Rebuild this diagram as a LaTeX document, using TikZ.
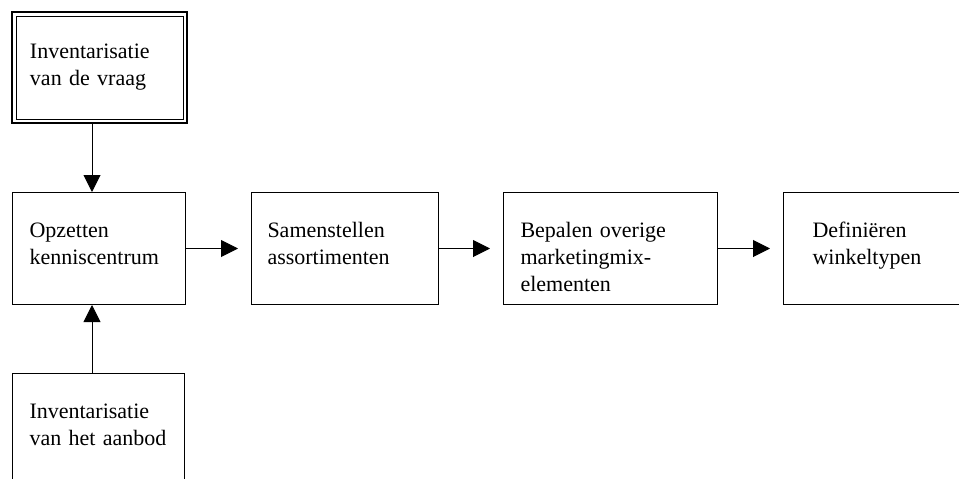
\documentclass[tikz,border=0pt]{standalone}
\usepackage{fontspec}
\setmainfont{Liberation Serif}
\usetikzlibrary{arrows.meta}

\begin{document}
\begin{tikzpicture}[x=1pt, y=-1pt,
    font=\fontsize{22}{27}\selectfont,
    stap/.style={draw, line width=1pt, anchor=north west, inner ysep=0pt,
        align=left, text height=45pt, text depth=67pt},
    pijl/.style={line width=1pt, -{Triangle[length=17pt,width=17pt]}}]
    \useasboundingbox (0,0) rectangle (959,479);
    \clip (0,0) rectangle (959,479);
    \node (vraag) [stap, line width=2pt, inner xsep=18pt, text width=139pt,
        text height=46pt, text depth=65pt] at (11,11) {Inventarisatie\\van de vraag};
    \draw [line width=1pt] ([shift={(5,5)}]vraag.north west) rectangle ([shift={(-5,-5)}]vraag.south east);
    \node (kennis) [stap, inner xsep=17pt, text width=139pt] at (12,192) {Opzetten\\kenniscentrum};
    \node (assort) [stap, inner xsep=16pt, text width=155pt] at (251,192) {Samenstellen\\assortimenten};
    \node (mix) [stap, inner xsep=17pt, text width=180pt] at (503,192) {Bepalen overige\\marketingmix-\\elementen};
    \node (winkel) [stap, inner xsep=29pt, text width=124pt] at (783,192) {Definiëren\\winkeltypen};
    \node (aanbod) [stap, inner xsep=17pt, text width=138pt] at (12,373) {Inventarisatie\\van het aanbod};
    \draw [pijl] ([xshift=81pt]vraag.south west) -- ([xshift=80pt]kennis.north west);
    \draw [pijl] ([xshift=80pt]aanbod.north west) -- ([xshift=80pt]kennis.south west);
    \draw [pijl, shorten >=13pt] (kennis) -- (assort);
    \draw [pijl, shorten >=13pt] (assort) -- (mix);
    \draw [pijl, shorten >=13pt] (mix) -- (winkel);
\end{tikzpicture}
\end{document}
